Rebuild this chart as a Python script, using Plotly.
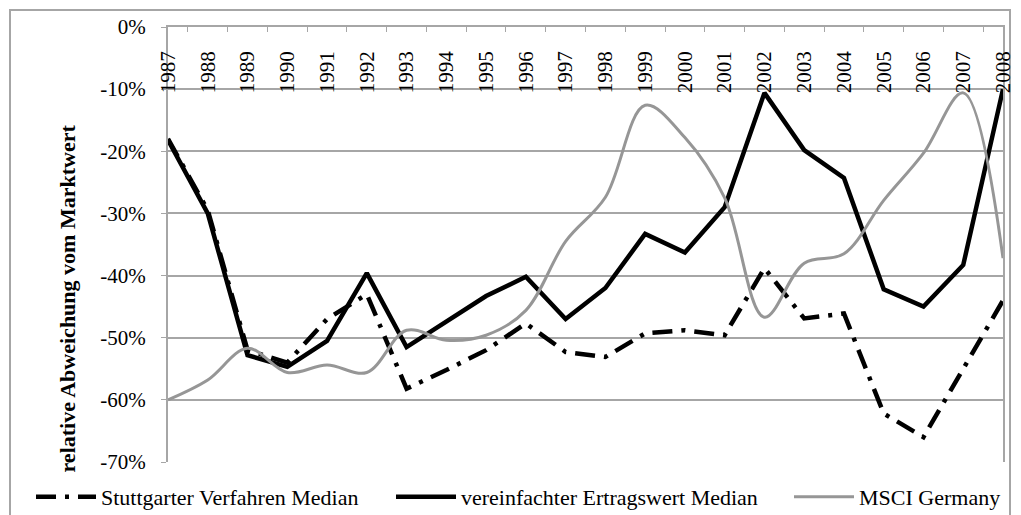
import plotly.graph_objects as go

# years on the category axis
years = [str(y) for y in range(1987, 2009)]

# median deviation from market value (fractions)
stuttgarter = [-0.18, -0.295, -0.52, -0.54, -0.47, -0.43, -0.582, -0.552, -0.52, -0.477,
               -0.523, -0.531, -0.493, -0.488, -0.496, -0.388, -0.469, -0.461, -0.622, -0.66,
               -0.55, -0.44]
ertragswert = [-0.182, -0.30, -0.528, -0.547, -0.505, -0.396, -0.515, -0.475, -0.433, -0.402,
               -0.47, -0.42, -0.333, -0.363, -0.29, -0.106, -0.198, -0.243, -0.422, -0.45,
               -0.383, -0.10]
msci = [-0.60, -0.568, -0.517, -0.556, -0.544, -0.556, -0.488, -0.504, -0.496, -0.456,
        -0.345, -0.274, -0.126, -0.178, -0.275, -0.467, -0.38, -0.365, -0.279, -0.203,
        -0.106, -0.372]

# y tick labels as printed (hyphen, not unicode minus)
y_ticks = [0, -0.1, -0.2, -0.3, -0.4, -0.5, -0.6, -0.7]
y_tick_text = ['0%', '-10%', '-20%', '-30%', '-40%', '-50%', '-60%', '-70%']

grey_grid = '#a6a6a6'
font_name = 'Liberation Serif'

# page body has an 8px margin, so the figure is a bit smaller than the window
W, H = 1013, 507
plot_l, plot_t, plot_r, plot_b = 160, 19, 995, 454
pw, ph = plot_r - plot_l, plot_b - plot_t


def px_x(x):
    return (x - 8 - plot_l) / pw


def px_y(y):
    return (plot_b - (y - 8)) / ph


fig = go.Figure()
fig.add_trace(go.Scatter(x=years, y=stuttgarter, mode='lines', name='Stuttgarter Verfahren Median',
                         legend='legend',
                         line=dict(color='black', width=4.5, dash='20px,9px,4px,9px')))
fig.add_trace(go.Scatter(x=years, y=ertragswert, mode='lines', name='vereinfachter Ertragswert Median',
                         legend='legend2', line=dict(color='black', width=4.5)))
# MSCI drawn on the label axis (x2 matches x, so same positions)
fig.add_trace(go.Scatter(x=years, y=msci, mode='lines', name='MSCI Germany', xaxis='x2',
                         legend='legend3',
                         line=dict(color='#969696', width=3, shape='spline', smoothing=1.0)))

leg = dict(orientation='h', xanchor='left', y=px_y(497), yanchor='middle',
           font=dict(size=22), itemwidth=60, bgcolor='rgba(0,0,0,0)')

fig.update_layout(
    width=W, height=H,
    margin=dict(l=plot_l, r=W - plot_r, t=plot_t, b=H - plot_b, autoexpand=False),
    paper_bgcolor='white', plot_bgcolor='white',
    font=dict(family=font_name, size=21, color='black'),
    showlegend=True,
    legend=dict(leg, x=px_x(31)),
    legend2=dict(leg, x=px_x(391)),
    legend3=dict(leg, x=px_x(789)),
    # top axis: line at 0% with tick marks between categories
    xaxis=dict(type='category', categoryarray=years, side='top', anchor='y', showticklabels=False,
               tickson='boundaries', ticks='inside', ticklen=5, tickcolor=grey_grid,
               showline=True, linecolor=grey_grid, linewidth=2, showgrid=False, automargin=False),
    # year labels hanging below the 0% line
    xaxis2=dict(type='category', categoryarray=years, matches='x', overlaying='x', anchor='free',
                position=px_y(46), side='bottom', tickangle=-90, ticks='', showline=False,
                showgrid=False, tickfont=dict(size=21), automargin=False),
    yaxis=dict(range=[-0.70, 0], tickvals=y_ticks, ticktext=y_tick_text, showgrid=True,
               gridcolor=grey_grid, gridwidth=2, zeroline=False, showline=True, linecolor=grey_grid,
               linewidth=2, mirror=True, ticks='outside', ticklen=5, tickcolor=grey_grid,
               ticklabelstandoff=11, tickfont=dict(size=21), automargin=False),
)

# y-axis title placed like the original (centred on the whole chart area)
fig.add_annotation(text='<b>relative Abweichung vom Marktwert</b>', xref='paper', yref='paper',
                   x=px_x(52), y=px_y(299), textangle=-90, showarrow=False,
                   font=dict(size=22, family=font_name))

# outer chart frame
fig.add_shape(type='rect', xref='paper', yref='paper', x0=px_x(10), x1=px_x(1010),
              y0=px_y(540), y1=px_y(10), line=dict(color=grey_grid, width=2), layer='below')

fig.write_html('out.html')
